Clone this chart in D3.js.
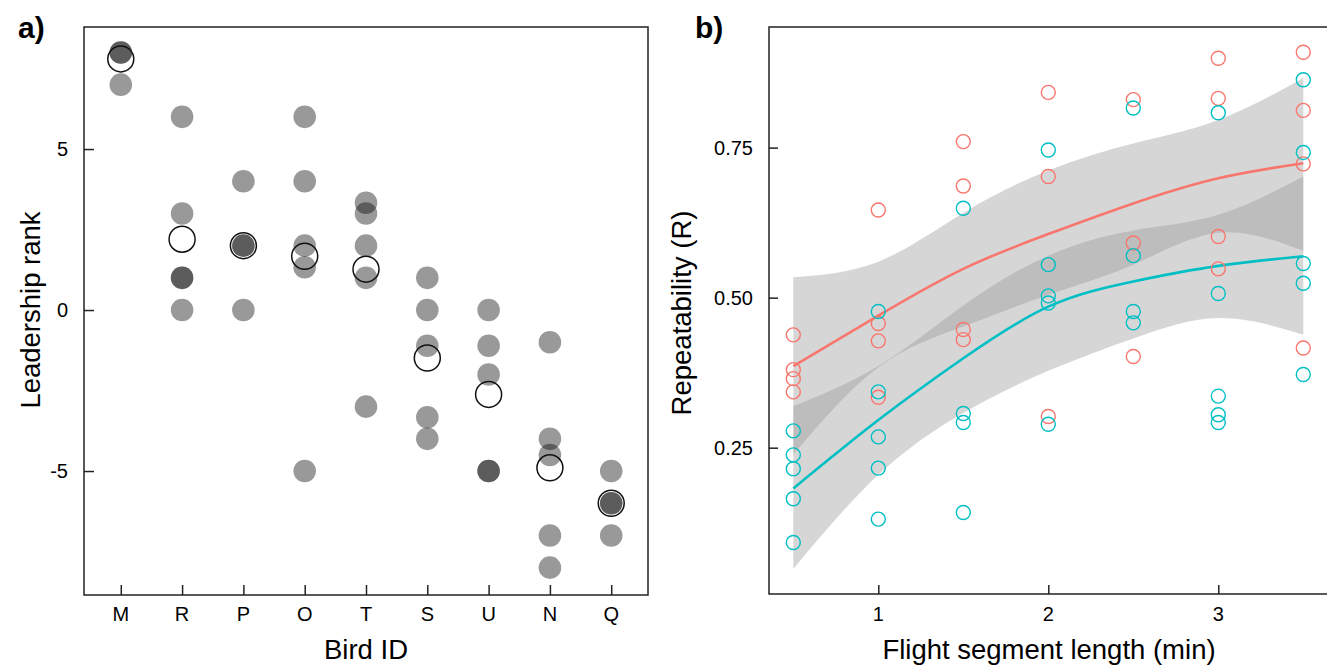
<!DOCTYPE html>
<html>
<head>
<meta charset="utf-8">
<script src="https://cdn.jsdelivr.net/npm/d3@7"></script>
<style>
  body { margin: 0; background: #fff; }
  svg { display: block; font-family: "Liberation Sans", Arial, sans-serif; }
</style>
</head>
<body>
<div id="chart"></div>
<script>
// panel a: leadership rank per bird
var birds = ["M", "R", "P", "O", "T", "S", "U", "N", "Q"];
var ranks = [
  [8, 8, 7],
  [6, 3, 1, 1, 0],
  [4, 2, 2, 0],
  [6, 4, 2, 1.33, -5],
  [3.33, 3, 2, 1, -3],
  [1, 0, -1.11, -3.33, -4],
  [0, -1.11, -2, -5, -5],
  [-1, -4, -4.5, -7, -8],
  [-5, -6, -6, -7]
];
var meanRanks = [7.8, 2.2, 2, 1.67, 1.27, -1.49, -2.62, -4.9, -6];
var rankTicks = [-5, 0, 5];

// panel b: repeatability vs flight segment length
var segLengths = [0.5, 1, 1.5, 2, 2.5, 3, 3.5];
var repRed = [
  [0.438, 0.380, 0.365, 0.343],
  [0.646, 0.457, 0.428, 0.334],
  [0.760, 0.686, 0.447, 0.430],
  [0.842, 0.702, 0.302],
  [0.830, 0.591, 0.402],
  [0.899, 0.832, 0.602, 0.548],
  [0.909, 0.812, 0.723, 0.416]
];
var repTeal = [
  [0.278, 0.238, 0.215, 0.165, 0.092],
  [0.477, 0.343, 0.268, 0.216, 0.131],
  [0.649, 0.307, 0.292, 0.142],
  [0.746, 0.555, 0.503, 0.491, 0.289],
  [0.816, 0.570, 0.477, 0.458],
  [0.808, 0.507, 0.336, 0.305, 0.292],
  [0.863, 0.742, 0.557, 0.524, 0.372]
];
var redFit  = [0.386, 0.470, 0.548, 0.606, 0.657, 0.699, 0.724];
var redLo   = [0.239, 0.384, 0.452, 0.505, 0.555, 0.608, 0.578];
var redHi   = [0.534, 0.560, 0.641, 0.712, 0.757, 0.796, 0.866];
var tealFit = [0.182, 0.296, 0.399, 0.485, 0.527, 0.553, 0.569];
var tealLo  = [0.048, 0.205, 0.308, 0.378, 0.432, 0.466, 0.438];
var tealHi  = [0.319, 0.386, 0.487, 0.570, 0.612, 0.638, 0.702];
var repTicks = [0.25, 0.50, 0.75];
var lenTicks = [1, 2, 3];

var colRed = "#F8766D";
var colTeal = "#00BFC4";

var W = 1327, H = 666;
var svg = d3.select("#chart").append("svg")
  .attr("width", W)
  .attr("height", H);

// ---------- panel a ----------
var ax = d3.scalePoint().domain(birds).range([84, 648]).padding(0.6);
var ay = d3.scaleLinear().domain([-8.85, 8.79]).range([595, 27]);

var ga = svg.append("g");

ga.append("rect")
  .attr("x", 84).attr("y", 27)
  .attr("width", 648 - 84).attr("height", 595 - 27)
  .attr("fill", "none").attr("stroke", "#222").attr("stroke-width", 1.5);

ga.append("g")
  .attr("transform", "translate(0,595)")
  .call(d3.axisTop(ax).tickSize(10).tickFormat(""))
  .call(function(g) { g.select(".domain").remove(); })
  .selectAll("line").attr("stroke", "#222").attr("stroke-width", 1.5);

ga.append("g")
  .attr("transform", "translate(84,0)")
  .call(d3.axisRight(ay).tickValues(rankTicks).tickSize(10).tickFormat(""))
  .call(function(g) { g.select(".domain").remove(); })
  .selectAll("line").attr("stroke", "#222").attr("stroke-width", 1.5);

ga.selectAll(".xlab")
  .data(birds)
  .enter().append("text")
  .attr("x", function(d) { return ax(d); })
  .attr("y", 621)
  .attr("text-anchor", "middle")
  .attr("font-size", 20)
  .text(function(d) { return d; });

ga.selectAll(".ylab")
  .data(rankTicks)
  .enter().append("text")
  .attr("x", 68)
  .attr("y", function(d) { return ay(d) + 7; })
  .attr("text-anchor", "end")
  .attr("font-size", 20)
  .text(function(d) { return d; });

var rankPts = [];
birds.forEach(function(b, i) {
  ranks[i].forEach(function(v) { rankPts.push({ bird: b, v: v }); });
});

ga.selectAll(".pt")
  .data(rankPts)
  .enter().append("circle")
  .attr("cx", function(d) { return ax(d.bird); })
  .attr("cy", function(d) { return ay(d.v); })
  .attr("r", 11.3)
  .attr("fill", "#000")
  .attr("fill-opacity", 0.4);

ga.selectAll(".mean")
  .data(birds)
  .enter().append("circle")
  .attr("cx", function(d) { return ax(d); })
  .attr("cy", function(d, i) { return ay(meanRanks[i]); })
  .attr("r", 13)
  .attr("fill", "none")
  .attr("stroke", "#111")
  .attr("stroke-width", 1.5);

ga.append("text")
  .attr("x", 366).attr("y", 659)
  .attr("text-anchor", "middle")
  .attr("font-size", 27.5)
  .text("Bird ID");

ga.append("text")
  .attr("transform", "translate(40,310) rotate(-90)")
  .attr("text-anchor", "middle")
  .attr("font-size", 27.5)
  .text("Leadership rank");

svg.append("text")
  .attr("x", 18).attr("y", 38)
  .attr("font-size", 30).attr("font-weight", "bold")
  .text("a)");

// ---------- panel b ----------
var bx = d3.scaleLinear().domain([0.357, 3.663]).range([769, 1331]);
var by = d3.scaleLinear().domain([0.0062, 0.951]).range([594, 27]);

var gb = svg.append("g");

var bandRed = segLengths.map(function(x, i) { return { x: x, lo: redLo[i], hi: redHi[i], fit: redFit[i] }; });
var bandTeal = segLengths.map(function(x, i) { return { x: x, lo: tealLo[i], hi: tealHi[i], fit: tealFit[i] }; });

var area = d3.area()
  .x(function(d) { return bx(d.x); })
  .y0(function(d) { return by(d.lo); })
  .y1(function(d) { return by(d.hi); })
  .curve(d3.curveNatural);

var line = d3.line()
  .x(function(d) { return bx(d.x); })
  .y(function(d) { return by(d.fit); })
  .curve(d3.curveNatural);

[bandRed, bandTeal].forEach(function(band) {
  gb.append("path")
    .datum(band)
    .attr("d", area)
    .attr("fill", "#999")
    .attr("fill-opacity", 0.4);
});

gb.append("path").datum(bandRed).attr("d", line)
  .attr("fill", "none").attr("stroke", colRed).attr("stroke-width", 2.6);
gb.append("path").datum(bandTeal).attr("d", line)
  .attr("fill", "none").attr("stroke", colTeal).attr("stroke-width", 2.6);

function flatten(vals) {
  var out = [];
  segLengths.forEach(function(x, i) {
    vals[i].forEach(function(v) { out.push({ x: x, v: v }); });
  });
  return out;
}

gb.selectAll(".ptRed")
  .data(flatten(repRed))
  .enter().append("circle")
  .attr("cx", function(d) { return bx(d.x); })
  .attr("cy", function(d) { return by(d.v); })
  .attr("r", 7)
  .attr("fill", "none")
  .attr("stroke", colRed)
  .attr("stroke-width", 1.4);

gb.selectAll(".ptTeal")
  .data(flatten(repTeal))
  .enter().append("circle")
  .attr("cx", function(d) { return bx(d.x); })
  .attr("cy", function(d) { return by(d.v); })
  .attr("r", 7)
  .attr("fill", "none")
  .attr("stroke", colTeal)
  .attr("stroke-width", 1.4);

gb.append("rect")
  .attr("x", 769).attr("y", 27)
  .attr("width", 1331 - 769).attr("height", 594 - 27)
  .attr("fill", "none").attr("stroke", "#222").attr("stroke-width", 1.5);

gb.append("g")
  .attr("transform", "translate(0,594)")
  .call(d3.axisTop(bx).tickValues(lenTicks).tickSize(9).tickFormat(""))
  .call(function(g) { g.select(".domain").remove(); })
  .selectAll("line").attr("stroke", "#222").attr("stroke-width", 1.5);

gb.append("g")
  .attr("transform", "translate(769,0)")
  .call(d3.axisRight(by).tickValues(repTicks).tickSize(9).tickFormat(""))
  .call(function(g) { g.select(".domain").remove(); })
  .selectAll("line").attr("stroke", "#222").attr("stroke-width", 1.5);

gb.selectAll(".bxlab")
  .data(lenTicks)
  .enter().append("text")
  .attr("x", function(d) { return bx(d); })
  .attr("y", 621)
  .attr("text-anchor", "middle")
  .attr("font-size", 20)
  .text(function(d) { return d; });

gb.selectAll(".bylab")
  .data(repTicks)
  .enter().append("text")
  .attr("x", 753)
  .attr("y", function(d) { return by(d) + 7; })
  .attr("text-anchor", "end")
  .attr("font-size", 20)
  .text(function(d) { return d3.format(".2f")(d); });

gb.append("text")
  .attr("x", 1049).attr("y", 659)
  .attr("text-anchor", "middle")
  .attr("font-size", 27.5)
  .text("Flight segment length (min)");

gb.append("text")
  .attr("transform", "translate(691,313) rotate(-90)")
  .attr("text-anchor", "middle")
  .attr("font-size", 27.5)
  .text("Repeatability (R)");

svg.append("text")
  .attr("x", 695).attr("y", 38)
  .attr("font-size", 30).attr("font-weight", "bold")
  .text("b)");
</script>
</body>
</html>
